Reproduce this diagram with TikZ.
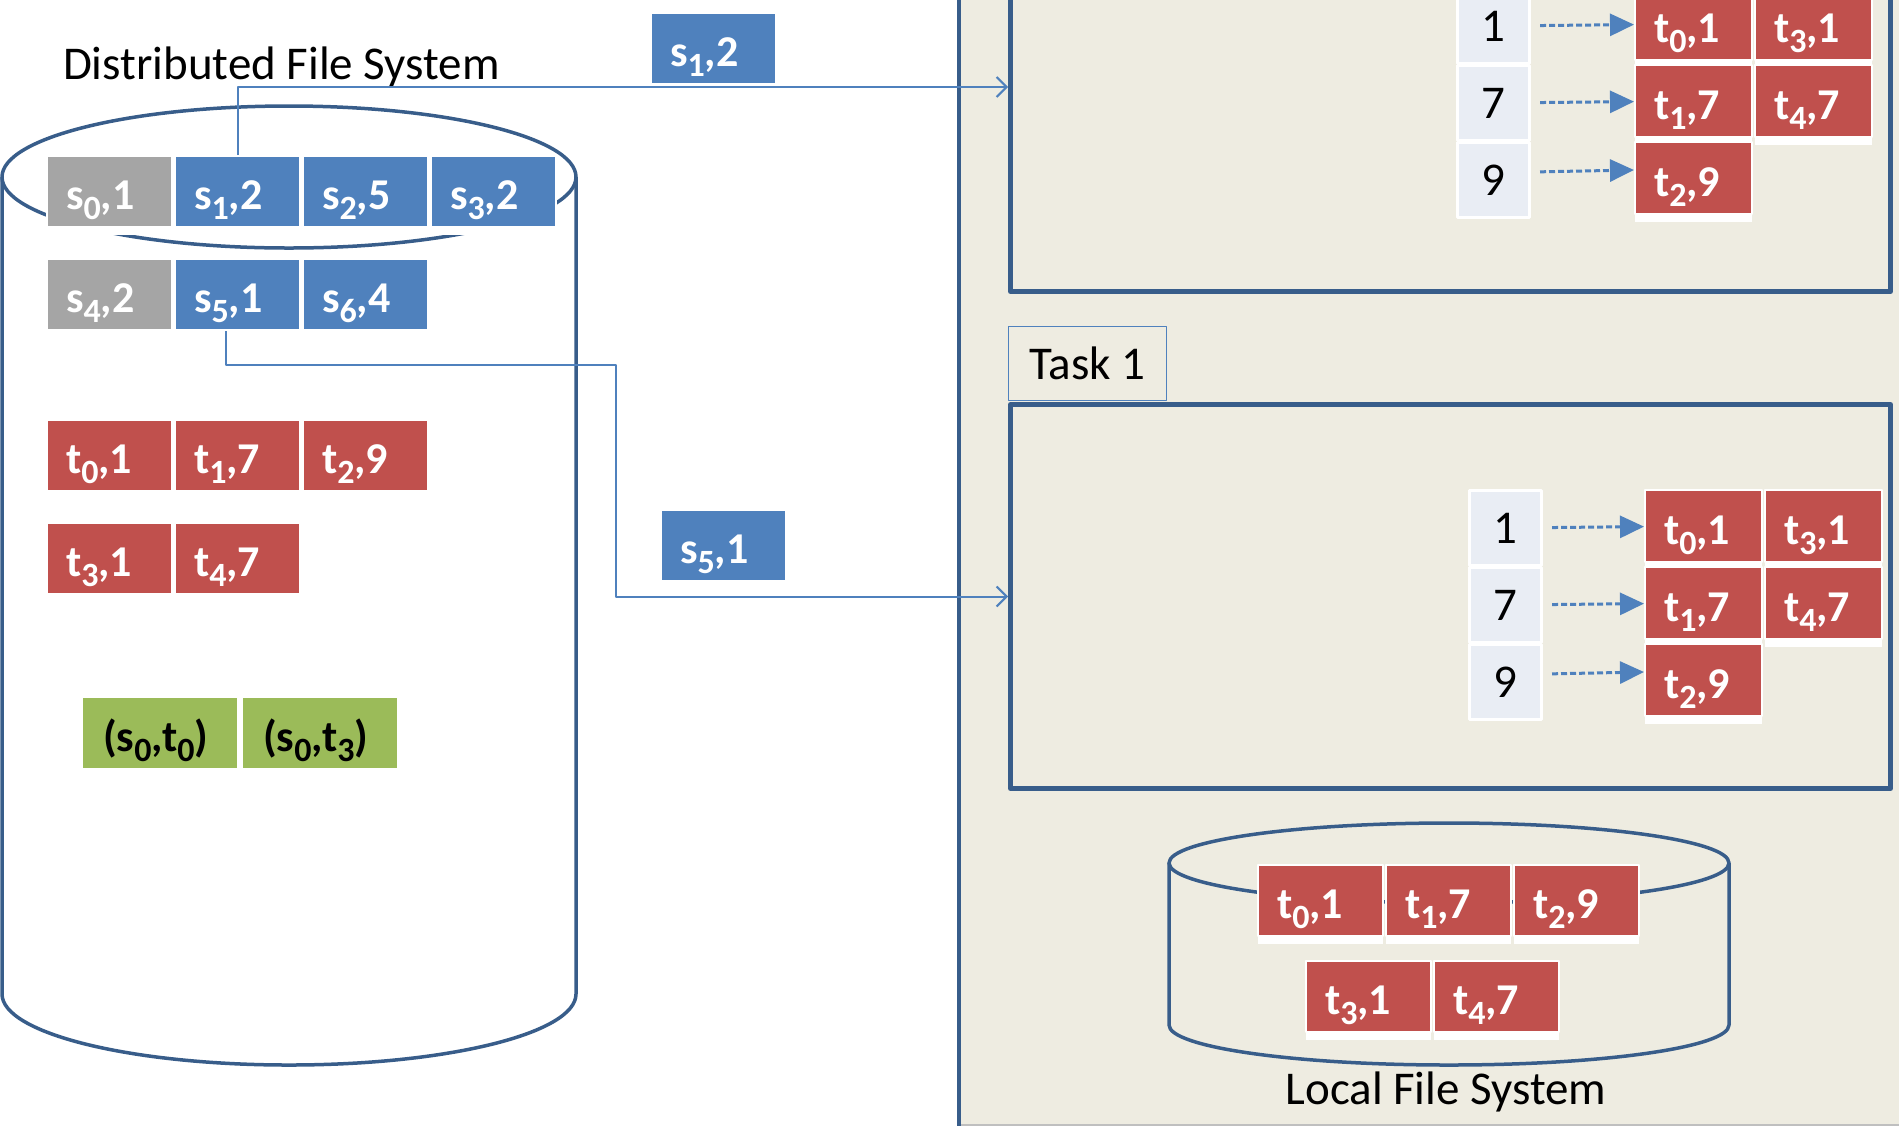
\documentclass[tikz,border=0pt]{standalone}
\usepackage{fontspec}
\setmainfont{Carlito}
\usetikzlibrary{arrows.meta,shadows}

\definecolor{dkblue}{HTML}{385D8A}
\definecolor{midblue}{HTML}{4F81BD}
\definecolor{cellred}{HTML}{C0504D}
\definecolor{cellgray}{HTML}{A5A5A5}
\definecolor{cellgreen}{HTML}{9BBB59}
\definecolor{panel}{HTML}{EEECE1}
\definecolor{keyfill}{HTML}{E9EDF4}

\newcommand{\sub}[1]{\raisebox{-5pt}{\fontsize{17}{18}\selectfont #1}}
\newcommand{\tup}[3]{#1\sub{#2},#3}

\begin{document}
\begin{tikzpicture}[x=0.5pt, y=-0.5pt, line join=round,
    font=\fontsize{23.5}{28}\selectfont,
    cell/.style={anchor=north west, inner xsep=9.5pt, inner ysep=0pt, align=left,
        text width=43.5pt, minimum height=35.5pt, text height=23pt, text depth=5pt,
        text=white, font=\fontsize{22}{26}\selectfont\bfseries, draw=white, line width=1pt,
        drop shadow={shadow xshift=0pt, shadow yshift=-4pt, fill=white, opacity=1}},
    tcell/.style={cell, text width=39.5pt, minimum height=36pt, fill=cellred},
    pcell/.style={cell, text width=57pt, inner xsep=10.5pt, minimum height=36pt,
        fill=cellgreen, text=black},
    keycell/.style={anchor=north west, minimum width=36pt, minimum height=37.5pt,
        fill=keyfill, draw=white, line width=1.5pt},
    cyl/.style={dkblue, line width=1.75pt},
    taskbox/.style={draw=dkblue, line width=2.5pt, minimum width=440pt},
    tablabel/.style={draw=midblue, line width=0.7pt, fill=panel, anchor=south west,
        minimum width=79pt, minimum height=37pt},
    link/.style={midblue, line width=1pt, -{Straight Barb[length=5pt,width=10pt]}},
    hashlink/.style={midblue, line width=1.5pt, dash pattern=on 3pt off 1.5pt,
        shorten <=4.5pt, -{Triangle[length=12pt,width=11pt]}}]

    \useasboundingbox (0,0) rectangle (1899,1126);
    \clip (0,0) rectangle (1899,1126);

    \fill[panel] (959,0) rectangle (1899,1126);
    \draw[gray!50, line width=0.6pt] (959,1125) -- (1899,1125);
    \draw[dkblue, line width=2pt] (959,0) -- (959,1126);

    % distributed file system
    \draw[cyl, fill=white] (2,177) -- (2,994) arc[start angle=180, end angle=0, x radius=287, y radius=71] -- (576,177);
    \draw[cyl] (289,177) ellipse [x radius=287, y radius=71];
    \node[anchor=base west] (dfs) at (56,79) {Distributed File System};

    \node[cell, fill=cellgray] (s01) at (46,155) {\tup{s}{0}{1}};
    \node[cell, fill=midblue] (s12) at (174,155) {\tup{s}{1}{2}};
    \node[cell, fill=midblue] (s25) at (302,155) {\tup{s}{2}{5}};
    \node[cell, fill=midblue] (s32) at (430,155) {\tup{s}{3}{2}};

    \node[cell, fill=cellgray] (s42) at (46,258) {\tup{s}{4}{2}};
    \node[cell, fill=midblue] (s51) at (174,258) {\tup{s}{5}{1}};
    \node[cell, fill=midblue] (s64) at (302,258) {\tup{s}{6}{4}};

    \node[cell, fill=cellred] (dt01) at (46,419) {\tup{t}{0}{1}};
    \node[cell, fill=cellred] (dt17) at (174,419) {\tup{t}{1}{7}};
    \node[cell, fill=cellred] (dt29) at (302,419) {\tup{t}{2}{9}};

    \node[cell, fill=cellred] (dt31) at (46,522) {\tup{t}{3}{1}};
    \node[cell, fill=cellred] (dt47) at (174,522) {\tup{t}{4}{7}};

    \node[pcell] (p00) at (81,696) {(\tup{s}{0}{t\sub{0}})};
    \node[pcell] (p03) at (241,696) {(\tup{s}{0}{t\sub{3}})};

    % records on their way
    \node[cell, fill=midblue] (m12) at (650,12) {\tup{s}{1}{2}};
    \node[cell, fill=midblue] (m51) at (660,509) {\tup{s}{5}{1}};

    % tasks
    \node[taskbox, minimum height=162pt, anchor=south west] (task0) at (1008,294) {};
    \node[tablabel] (tab1) at (1008,401) {Task 1};
    \node[taskbox, minimum height=192pt, anchor=north west] (task1) at (1008,402) {};

    \coordinate (in0) at (1008,87);
    \coordinate (bend) at (616,365);
    \draw[link] (s12.north) |- (in0);
    \draw[link] ([xshift=-6pt]s51.south) |- (bend) |- (task1.west);

    \node[keycell] (ak1) at (1456,-13) {1};
    \node[keycell] (ak7) at (1456,64) {7};
    \node[keycell] (ak9) at (1456,141) {9};
    \node[tcell] (at01) at (1634,-13) {\tup{t}{0}{1}};
    \node[tcell] (at31) at (1754,-13) {\tup{t}{3}{1}};
    \node[tcell] (at17) at (1634,64) {\tup{t}{1}{7}};
    \node[tcell] (at47) at (1754,64) {\tup{t}{4}{7}};
    \node[tcell] (at29) at (1634,141) {\tup{t}{2}{9}};
    \draw[hashlink] (ak1) -- (at01);
    \draw[hashlink] (ak7) -- (at17);
    \draw[hashlink] ([yshift=4pt]ak9.east) -- ([yshift=4pt]at29.west);

    \node[keycell] (bk1) at (1468,489) {1};
    \node[keycell] (bk7) at (1468,566) {7};
    \node[keycell] (bk9) at (1468,643) {9};
    \node[tcell] (bt01) at (1644,489) {\tup{t}{0}{1}};
    \node[tcell] (bt31) at (1764,489) {\tup{t}{3}{1}};
    \node[tcell] (bt17) at (1644,566) {\tup{t}{1}{7}};
    \node[tcell] (bt47) at (1764,566) {\tup{t}{4}{7}};
    \node[tcell] (bt29) at (1644,643) {\tup{t}{2}{9}};
    \draw[hashlink] (bk1) -- (bt01);
    \draw[hashlink] (bk7) -- (bt17);
    \draw[hashlink] ([yshift=4pt]bk9.east) -- ([yshift=4pt]bt29.west);

    % local file system
    \draw[cyl, fill=panel] (1169,863) -- (1169,1025) arc[start angle=180, end angle=0, x radius=280, y radius=40] -- (1729,863);
    \draw[cyl] (1449,863) ellipse [x radius=280, y radius=40];
    \node[cell, fill=cellred] (lt01) at (1257,864) {\tup{t}{0}{1}};
    \node[cell, fill=cellred] (lt17) at (1385,864) {\tup{t}{1}{7}};
    \node[cell, fill=cellred] (lt29) at (1513,864) {\tup{t}{2}{9}};
    \node[cell, fill=cellred] (lt31) at (1305,960) {\tup{t}{3}{1}};
    \node[cell, fill=cellred] (lt47) at (1433,960) {\tup{t}{4}{7}};
    \node[anchor=base] (lfs) at (1446,1104) {Local File System};

\end{tikzpicture}
\end{document}
